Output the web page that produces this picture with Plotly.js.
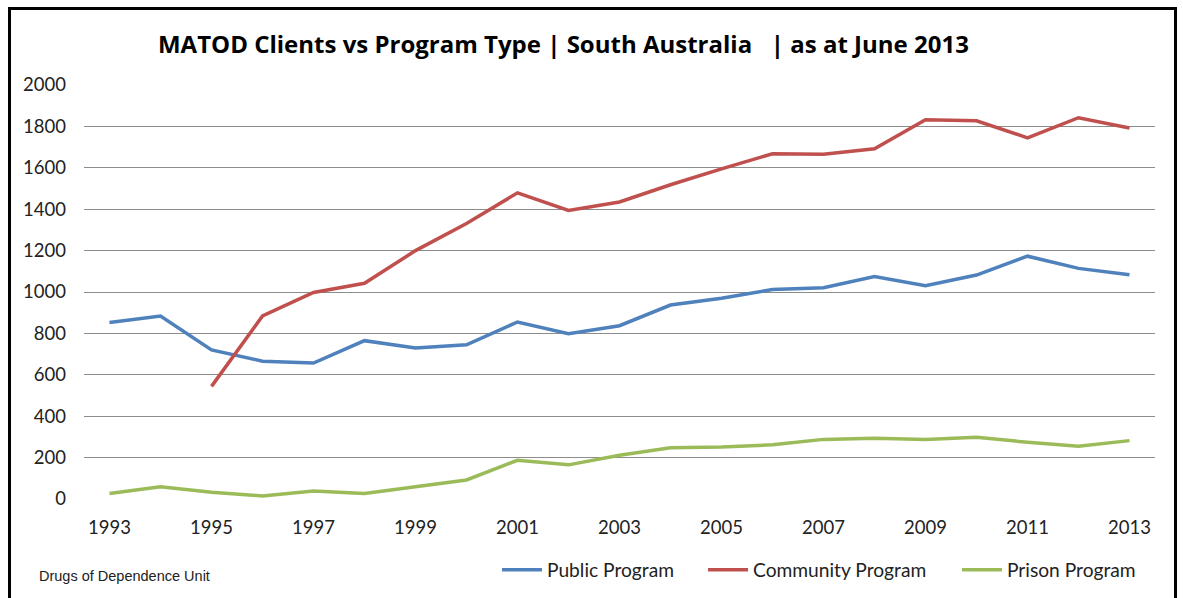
<!DOCTYPE html>
<html>
<head>
<meta charset="utf-8">
<script src="https://cdn.plot.ly/plotly-3.0.1.min.js"></script>
<style>
html,body{margin:0;padding:0;background:#fff;overflow:hidden;}
#chart{position:absolute;left:0;top:0;width:1183px;height:598px;}
#frame{position:absolute;left:8px;top:7px;width:1163px;height:600px;border:3px solid #000;pointer-events:none;}
</style>
</head>
<body>
<div id="chart"></div>
<div id="frame"></div>
<script>
const years = [1993,1994,1995,1996,1997,1998,1999,2000,2001,2002,2003,2004,2005,2006,2007,2008,2009,2010,2011,2012,2013];
const publicProgram = [853,884,720,666,657,765,730,745,855,799,837,937,970,1012,1021,1075,1030,1082,1173,1114,1083];
const communityProgram = [null,null,544,884,998,1042,1200,1331,1479,1394,1435,1518,1595,1668,1665,1692,1832,1827,1745,1842,1792];
const prisonProgram = [27,59,33,15,39,27,59,92,187,165,211,247,251,262,288,293,287,298,274,255,282];
const seriesNames = ["Public Program","Community Program","Prison Program"];
const xTickYears = [1993,1995,1997,1999,2001,2003,2005,2007,2009,2011,2013];
const yTicks = [0,200,400,600,800,1000,1200,1400,1600,1800,2000];
const titleText = "MATOD Clients vs Program Type | South Australia &nbsp;&nbsp;| as at June 2013";
const footnote = "Drugs of Dependence Unit";

const colors = ["#4F81BD","#C0504D","#9BBB59"];
const seriesData = [publicProgram, communityProgram, prisonProgram];
const legendIds = ["legend","legend2","legend3"];
const legendX = [0.3856, 0.578, 0.8151];
const font = "Lato, 'Open Sans', sans-serif";

const traces = seriesData.map((vals,i)=>({
  type:"scatter", mode:"lines", x:years, y:vals, name:seriesNames[i], legend:legendIds[i],
  line:{color:colors[i], width:3.5}, connectgaps:false, hoverinfo:"skip"
}));

const layout = {
  width:1183, height:598,
  margin:{l:84, r:28, t:84.5, b:98.5, pad:0, autoexpand:false},
  paper_bgcolor:"#fff", plot_bgcolor:"#fff",
  showlegend:true,
  title:{text:"<b>"+titleText+"</b>", x:0.4763, xanchor:"center", y:0.925, yanchor:"middle",
    font:{family:"'Open Sans', sans-serif", size:24, color:"#000"}},
  xaxis:{range:[1992.5,2013.5], tickmode:"array", tickvals:xTickYears, ticktext:xTickYears.map(String),
    showgrid:false, zeroline:false, showline:false, ticks:"outside", ticklen:12, tickcolor:"rgba(0,0,0,0)",
    tickfont:{family:font, size:18.5, color:"#222"}, automargin:false},
  yaxis:{range:[0,2000], tickmode:"array", tickvals:yTicks, ticktext:yTicks.map(String),
    showgrid:true, gridcolor:"#8c8c8c", gridwidth:1, zeroline:false, showline:false, ticks:"", ticklabelstandoff:17,
    tickfont:{family:font, size:18.5, color:"#222"}, automargin:false},
  annotations:[{text:footnote, xref:"paper", yref:"paper", x:-0.0439, y:-0.187, xanchor:"left", yanchor:"middle",
    showarrow:false, font:{family:"'Liberation Sans', Arial, sans-serif", size:14.5, color:"#222"}}]
};
legendIds.forEach((id,i)=>{
  layout[id] = {orientation:"h", x:legendX[i], xanchor:"left", y:-0.125, yanchor:"top",
    font:{family:font, size:19.2, color:"#222"}, itemwidth:40, bgcolor:"rgba(0,0,0,0)", borderwidth:0};
});

Plotly.newPlot("chart", traces, layout, {staticPlot:true, displayModeBar:false});
</script>
</body>
</html>
